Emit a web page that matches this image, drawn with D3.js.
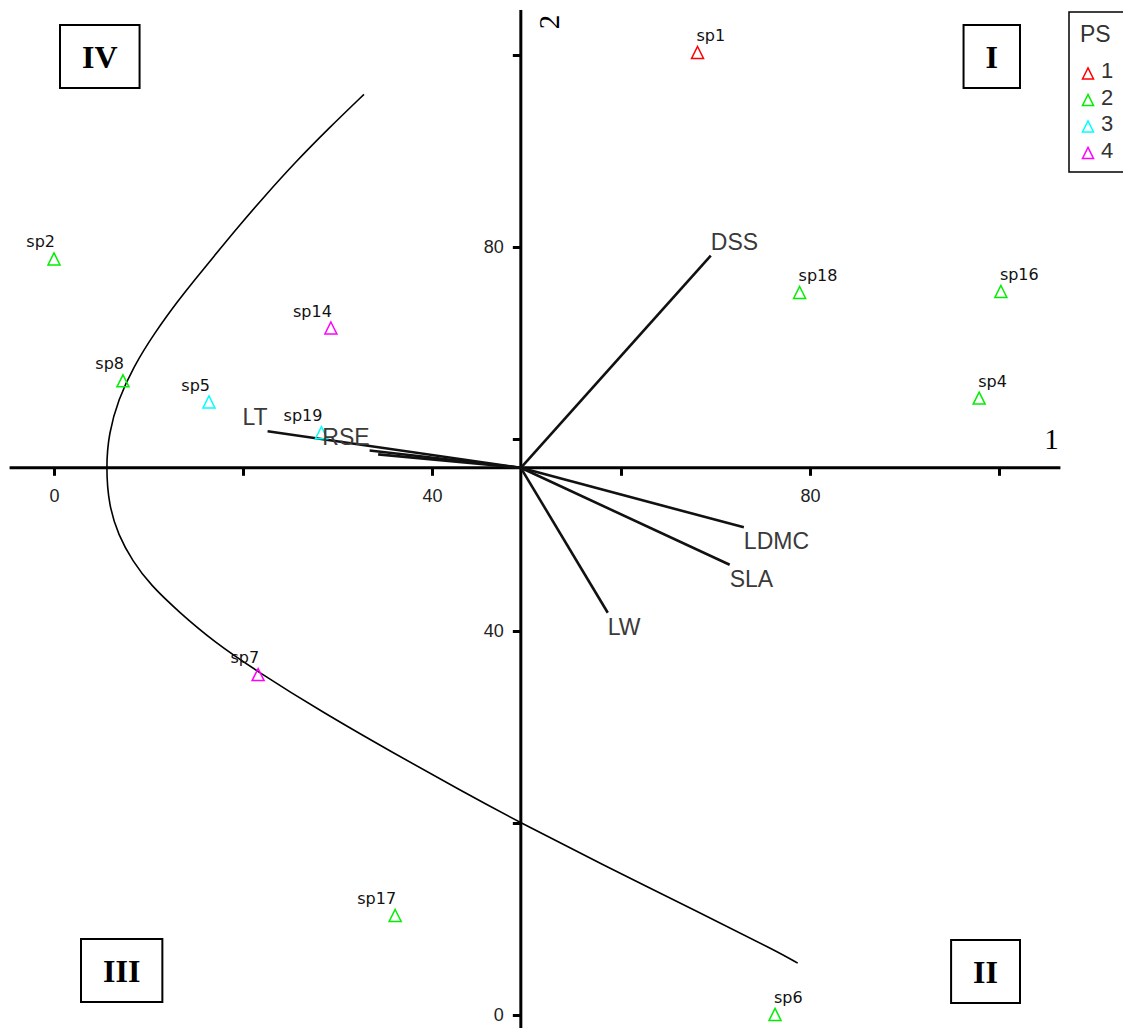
<!DOCTYPE html>
<html>
<head>
<meta charset="utf-8">
<script src="https://cdn.jsdelivr.net/npm/d3@7"></script>
<style>
  body { margin: 0; background: #fff; }
  svg { display: block; }
</style>
</head>
<body>
<svg id="chart" width="1123" height="1028"></svg>
<script>
// ---- Species scores on ordination axes 1 and 2 ----
const speciesNames = ["sp1", "sp2", "sp8", "sp5", "sp14", "sp19", "sp18", "sp16", "sp4", "sp7", "sp17", "sp6"];
const speciesAxis1 = [68.1, 0.0, 7.3, 16.4, 29.3, 28.3, 78.9, 100.2, 97.9, 21.6, 36.1, 76.3];
const speciesAxis2 = [100.2, 78.7, 66.0, 63.8, 71.5, 60.6, 75.2, 75.3, 64.2, 35.4, 10.3, 0.0];
const speciesGroup = ["1", "2", "2", "3", "4", "3", "2", "2", "2", "4", "2", "2"];

// ---- Trait vectors (end points; all start at the axes' crossing point) ----
const traitNames = ["DSS", "LDMC", "SLA", "LW", "LT", "RSE", ""];
const traitAxis1 = [69.5, 73.0, 71.5, 58.6, 22.6, 33.4, 34.3];
const traitAxis2 = [79.1, 50.8, 46.9, 41.9, 60.8, 58.8, 58.4];
const axesCrossing = [49.4, 57.0];

// ---- Boundary curve separating the groups ----
const boundaryAxis1 = [32.8, 29.1, 25.5, 22.2, 19.4, 16.9, 14.9, 13.2, 10.6, 8.4, 6.8, 5.8, 5.5,
                       5.8, 6.8, 8.3, 10.2, 13.2, 16.9, 21.5, 28.3, 35.9, 43.0, 49.4, 57.8, 68.4, 76.6, 78.7];
const boundaryAxis2 = [95.9, 92.4, 88.8, 85.2, 82.0, 79.0, 76.6, 74.5, 71.0, 67.5, 64.1, 60.6, 57.1,
                       53.1, 50.0, 47.3, 44.8, 42.0, 38.9, 35.8, 31.6, 27.3, 23.4, 20.0, 15.8, 10.6, 6.6, 5.4];

// ---- Axis ticks ----
const tickValues = [0, 20, 40, 60, 80, 100];
const tickLabels = ["0", "", "40", "", "80", ""];
const axis1Title = "1";
const axis2Title = "2";

// ---- Legend and quadrant labels ----
const legendTitle = "PS";
const groupNames = ["1", "2", "3", "4"];
const quadrantNames = ["I", "II", "III", "IV"];

// =====================================================================
const svg = d3.select("#chart");
const sans = "'Liberation Sans', Arial, sans-serif";
const labelSans = "'DejaVu Sans', Verdana, sans-serif";
const serif = "'Liberation Serif', 'Times New Roman', serif";

const x = d3.scaleLinear().domain([0, 100]).range([54, 999]);
const y = d3.scaleLinear().domain([0, 100]).range([1015, 55]);
const color = d3.scaleOrdinal().domain(groupNames)
  .range(["#ff0000", "#00ee00", "#00ffff", "#ff00ff"]);

const ox = x(axesCrossing[0]);
const oy = y(axesCrossing[1]);

// open triangle marker centred on (px, py)
function triangle(px, py, w) {
  const h = w;
  return `M${px},${py - h * 0.55}L${px + w / 2},${py + h * 0.45}L${px - w / 2},${py + h * 0.45}Z`;
}

// ---- boundary curve ----
const curvePts = boundaryAxis1.map((v, i) => [v, boundaryAxis2[i]]);
svg.append("path")
  .datum(curvePts)
  .attr("fill", "none")
  .attr("stroke", "#000")
  .attr("stroke-width", 1.6)
  .attr("d", d3.line().x(d => x(d[0])).y(d => y(d[1])).curve(d3.curveBasis));

// ---- axes ----
const xAxisSpan = [-4.7, 106.5];
const yAxisSpan = [-2, 104.7];

svg.append("line")
  .attr("x1", x(xAxisSpan[0])).attr("x2", x(xAxisSpan[1]))
  .attr("y1", oy).attr("y2", oy)
  .attr("stroke", "#000").attr("stroke-width", 3);
svg.append("line")
  .attr("x1", ox).attr("x2", ox)
  .attr("y1", y(yAxisSpan[0])).attr("y2", y(yAxisSpan[1]))
  .attr("stroke", "#000").attr("stroke-width", 3);

const gx = svg.append("g")
  .attr("transform", `translate(0,${oy})`)
  .call(d3.axisBottom(x).tickValues(tickValues)
    .tickFormat((d, i) => tickLabels[i]).tickSize(8).tickPadding(13));
const gy = svg.append("g")
  .attr("transform", `translate(${ox},0)`)
  .call(d3.axisLeft(y).tickValues(tickValues)
    .tickFormat((d, i) => tickLabels[i]).tickSize(8).tickPadding(9));
[gx, gy].forEach(g => {
  g.select(".domain").remove();
  g.selectAll(".tick line").attr("stroke", "#000").attr("stroke-width", 3);
  g.selectAll(".tick text")
    .attr("fill", "#222")
    .style("font-family", sans)
    .style("font-size", "18px");
});

// axis titles
svg.append("text")
  .attr("x", x(xAxisSpan[1]) - 9).attr("y", oy - 19)
  .attr("text-anchor", "middle")
  .style("font-family", serif).style("font-size", "29px")
  .attr("fill", "#000")
  .text(axis1Title);
svg.append("text")
  .attr("transform", `translate(${ox + 38},${y(yAxisSpan[1]) + 12}) rotate(-90)`)
  .attr("text-anchor", "middle")
  .style("font-family", serif).style("font-size", "29px")
  .attr("fill", "#000")
  .text(axis2Title);

// ---- trait vectors ----
const traits = traitNames.map((n, i) => ({ name: n, a1: traitAxis1[i], a2: traitAxis2[i] }));
svg.append("g").selectAll("line")
  .data(traits).join("line")
  .attr("x1", ox).attr("y1", oy)
  .attr("x2", d => x(d.a1)).attr("y2", d => y(d.a2))
  .attr("stroke", "#111").attr("stroke-width", 2.6)
  .attr("stroke-linecap", "butt");

// ---- species points ----
const species = speciesNames.map((n, i) => ({
  name: n, a1: speciesAxis1[i], a2: speciesAxis2[i], g: speciesGroup[i]
}));
svg.append("g").selectAll("path")
  .data(species).join("path")
  .attr("d", d => triangle(x(d.a1), y(d.a2), 12))
  .attr("fill", "none")
  .attr("stroke", d => color(d.g))
  .attr("stroke-width", 1.5);

svg.append("g").selectAll("text")
  .data(species).join("text")
  .attr("x", d => x(d.a1) + (x(d.a1) < ox ? 1 : -1))
  .attr("y", d => y(d.a2) - 12)
  .attr("text-anchor", d => x(d.a1) < ox ? "end" : "start")
  .style("font-family", labelSans).style("font-size", "16px")
  .attr("fill", "#111")
  .text(d => d.name);

// ---- trait labels ----
svg.append("g").selectAll("text")
  .data(traits.filter(d => d.name)).join("text")
  .attr("x", d => x(d.a1))
  .attr("y", d => y(d.a2) < oy ? y(d.a2) - 6 : y(d.a2) + 22)
  .attr("text-anchor", d => x(d.a1) < ox ? "end" : "start")
  .style("font-family", sans).style("font-size", "23px")
  .attr("fill", "#3a3a3a")
  .text(d => d.name);

// ---- quadrant boxes ----
const quadrantLayout = {
  "IV": { left: 60, top: 25 },
  "I": { right: 1020, top: 25 },
  "III": { left: 81, top: 939 },
  "II": { right: 1020, top: 940 }
};
quadrantNames.forEach(q => {
  const g = svg.append("g");
  const t = g.append("text")
    .style("font-family", serif).style("font-size", "32px").style("font-weight", "bold")
    .attr("fill", "#000")
    .attr("text-anchor", "middle")
    .text(q);
  const w = t.node().getComputedTextLength() + 44;
  const h = 63;
  const L = quadrantLayout[q];
  const left = L.left !== undefined ? L.left : L.right - w;
  g.insert("rect", "text")
    .attr("x", left).attr("y", L.top)
    .attr("width", w).attr("height", h)
    .attr("fill", "#fff").attr("stroke", "#000").attr("stroke-width", 2);
  t.attr("x", left + w / 2).attr("y", L.top + h / 2 + 11);
});

// ---- legend ----
const legend = svg.append("g");
legend.append("rect")
  .attr("x", 1069).attr("y", 12).attr("width", 80).attr("height", 160)
  .attr("fill", "#fff").attr("stroke", "#000").attr("stroke-width", 1.5);
legend.append("text")
  .attr("x", 1080).attr("y", 42)
  .style("font-family", sans).style("font-size", "23px")
  .attr("fill", "#333")
  .text(legendTitle);
const rows = legend.selectAll("g.row").data(groupNames).join("g").attr("class", "row")
  .attr("transform", (d, i) => `translate(0,${78 + i * 26.5})`);
rows.append("path")
  .attr("d", triangle(1088, -4, 11))
  .attr("fill", "none")
  .attr("stroke", d => color(d))
  .attr("stroke-width", 1.5);
rows.append("text")
  .attr("x", 1101).attr("y", 0)
  .style("font-family", sans).style("font-size", "22px")
  .attr("fill", "#333")
  .text(d => d);
</script>
</body>
</html>
